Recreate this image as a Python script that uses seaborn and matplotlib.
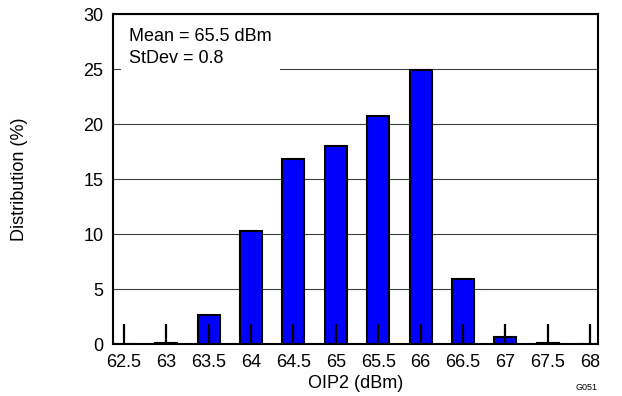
"""Histogram of OIP2 distribution as a seaborn bar chart."""
import matplotlib
matplotlib.use("Agg")
import matplotlib.pyplot as plt
import pandas as pd
import seaborn as sns

# data
oip2_bins = ["62.5", "63", "63.5", "64", "64.5", "65", "65.5", "66",
             "66.5", "67", "67.5", "68"]
distribution = [0.0, 0.1, 2.6, 10.3, 16.8, 18.0, 20.7, 24.9, 5.9, 0.6, 0.1, 0.0]
y_ticks = [0, 5, 10, 15, 20, 25, 30]
stats_text = "Mean = 65.5 dBm\nStDev = 0.8"


def main() -> None:
    sns.set_style("white")
    plt.rcParams["font.family"] = ["Liberation Sans", "DejaVu Sans"]
    for key in ("text.color", "axes.labelcolor", "xtick.color", "ytick.color"):
        plt.rcParams[key] = "black"

    df = pd.DataFrame({"bin": oip2_bins, "pct": distribution})

    fig = plt.figure(figsize=(6.22, 3.96), dpi=100)
    ax = fig.add_axes([0.1817, 0.1313, 0.7797, 0.8333])
    sns.barplot(data=df, x="bin", y="pct", order=oip2_bins, color="#0000ff",
                saturation=1, width=0.52, edgecolor="black", linewidth=1.5,
                ax=ax, zorder=2)

    ax.set_xlim(-0.26, 11.19)
    ax.set_ylim(0, 30)
    ax.set_yticks(y_ticks)
    ax.yaxis.grid(True, color="#404040", linewidth=0.8)
    ax.xaxis.grid(False)
    ax.yaxis.set_zorder(0.5)
    ax.xaxis.set_zorder(3)

    ax.tick_params(axis="x", bottom=True, direction="in", length=14.5,
                   width=1.6, color="black", labelsize=13, pad=7)
    ax.tick_params(axis="y", left=False, length=0, labelsize=13, pad=7)
    for s in ax.spines.values():
        s.set_visible(True)
        s.set_color("black")
        s.set_linewidth(1.5)
        s.set_zorder(4)

    ax.set_xlabel("OIP2 (dBm)", fontsize=13, labelpad=3)
    ax.set_ylabel("Distribution (%)", fontsize=13, labelpad=40)

    ax.text(0.033, 0.958, stats_text, transform=ax.transAxes, fontsize=13,
            va="top", ha="left", linespacing=1.4, zorder=5,
            bbox=dict(facecolor="white", edgecolor="none", pad=6))
    fig.text(0.96, 0.01, "G051", fontsize=6.5, ha="right", va="bottom")

    fig.savefig("out.png", dpi=100)
    plt.close(fig)


if __name__ == "__main__":
    main()
